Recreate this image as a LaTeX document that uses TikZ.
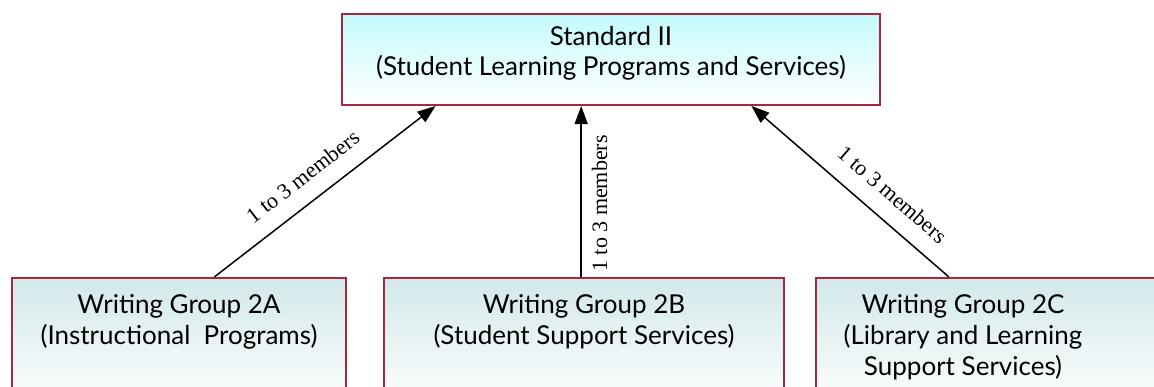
\documentclass[tikz,border=0pt]{standalone}
\usepackage{fontspec}
\setmainfont{Liberation Serif}
\newfontfamily\boxfont{Lato}
\usetikzlibrary{calc,arrows.meta}
\definecolor{boxborder}{RGB}{165,40,60}
\definecolor{topcyan}{RGB}{196,250,252}
\definecolor{grpcyan}{RGB}{210,232,234}
\begin{document}
\begin{tikzpicture}[x=0.5pt,y=-0.5pt,
  topbox/.style={draw=boxborder, line width=1pt, top color=topcyan, bottom color=white,
    rectangle, inner sep=0pt, anchor=north west, font=\boxfont\fontsize{13}{15}\selectfont},
  grpbox/.style={draw=boxborder, line width=1pt, top color=grpcyan, bottom color=white,
    rectangle, inner sep=0pt, anchor=north west, font=\boxfont\fontsize{13}{15.5}\selectfont},
  conn/.style={line width=0.75pt, -{Triangle[length=9pt,width=6.5pt]}},
  lbl/.style={font=\fontsize{11}{12}\selectfont, sloped, inner sep=3pt}
]
\useasboundingbox (0,0) rectangle (1154,386);
\clip (0,0) rectangle (1154,386);

\node[topbox] (top) at (341,13) {\parbox[c][45.5pt][t]{269pt}{\vspace*{6pt}\centering Standard II\\(Student Learning Programs and Services)}};

\node[grpbox] (gA) at (11,277) {\parbox[c][65pt][t]{167pt}{\vspace*{8pt}\centering Writing Group 2A\\(Instructional\ \ Programs)}};
\node[grpbox] (gB) at (383,277) {\parbox[c][65pt][t]{200pt}{\vspace*{8pt}\centering Writing Group 2B\\(Student Support Services)}};
\node[grpbox] (gC) at (815,277) {\parbox[c][65pt][t]{180pt}{\vspace*{8pt}\noindent\parbox{147pt}{\centering Writing Group 2C\\(Library and Learning\\Support Services)}}};

\coordinate (aS) at ($(gA.north west)!0.605!(gA.north east)$);
\coordinate (aE) at ($(top.south west)!0.175!(top.south east)$);
\coordinate (bS) at ($(gB.north west)!0.493!(gB.north east)$);
\coordinate (bE) at (bS |- top.south);
\coordinate (cS) at ($(gC.north west)!0.37!(gC.north east)$);
\coordinate (cE) at ($(top.south west)!0.76!(top.south east)$);

\draw[conn] (aS) -- node[lbl, above=5.5pt, pos=0.47] {1 to 3 members} (aE);
\draw[conn] (bS) -- node[lbl, below=2pt, pos=0.43] {1 to 3 members} (bE);
\draw[conn] (cS) -- node[lbl, above=5.5pt, pos=0.37] {1 to 3 members} (cE);
\end{tikzpicture}
\end{document}
